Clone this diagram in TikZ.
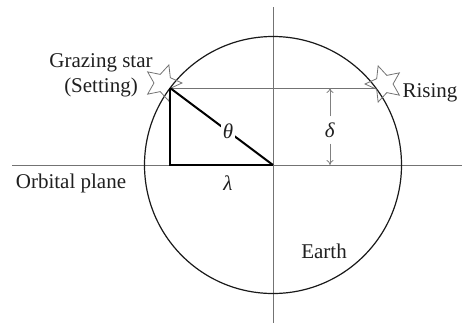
\documentclass[tikz,border=0pt]{standalone}
\usepackage{fontspec}
\setmainfont{Liberation Serif}
\usetikzlibrary{shapes.geometric,arrows.meta}
\begin{document}
\begin{tikzpicture}[x=1pt,y=-1pt,
  axis/.style={draw=black!55,line width=0.9pt},
  tri/.style={draw=black,line width=2pt},
  earthline/.style={draw=black!90,line width=1.2pt},
  starmark/.style={star,star points=5,star point ratio=2.1,draw=black!55,line width=0.8pt,minimum size=38pt,inner sep=0pt},
  lbl/.style={font=\fontsize{21}{25}\selectfont,text=black!88,inner sep=0pt},
  dim/.style={draw=black!50,line width=0.8pt,-{To[length=5pt,width=7pt]}}]
\useasboundingbox (0,0) rectangle (462,327);
\coordinate (O) at (273,165);
\coordinate (S) at (170.1,88);
\coordinate (R) at (375.9,88);
\coordinate (F) at (170.1,165);
\coordinate (xl) at (12,165);
\coordinate (xr) at (462,165);
\coordinate (yt) at (273,7);
\coordinate (yb) at (273,323);
\coordinate (dt) at (330,88);
\coordinate (db) at (330,165);
% axes
\draw[axis] (xl) -- (xr);
\draw[axis] (yt) -- (yb);
\draw[axis] (S) -- (R);
% earth
\draw[earthline] (O) circle (128.5);
% stars
\node[starmark,rotate=-18] (sset) at (163,83) {};
\node[starmark,rotate=18] (srise) at (384,84) {};
% triangle
\draw[tri] (S) -- (F) -- (O);
\draw[tri] (S) -- (O) node[pos=0.563,fill=white,lbl,inner sep=2pt] (theta) {\textit{θ}};
% delta dimension
\node[lbl] (delta) at (330,130) {\textit{δ}};
\draw[dim] (delta.north) ++(0,-6) coordinate (du) -- (dt);
\draw[dim] (delta.south) ++(0,6) coordinate (dd) -- (db);
% labels
\node[lbl] (lambda) at (228,183) {\textit{λ}};
\node[lbl,align=center] (graz) at (101,75.5) {Grazing star\\(Setting)};
\node[lbl] (rising) at (430,93) {Rising};
\node[lbl] (orb) at (71,183) {Orbital plane};
\node[lbl] (earth) at (324,251) {Earth};
\end{tikzpicture}
\end{document}
